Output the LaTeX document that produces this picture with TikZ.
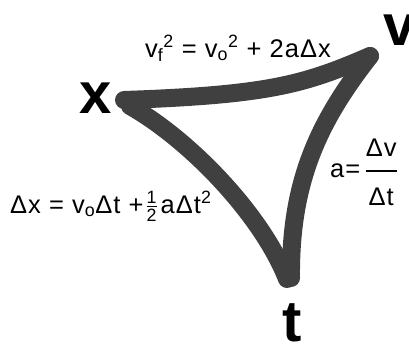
\documentclass[tikz,border=0pt]{standalone}
\usepackage{amsmath}
\usepackage{fontspec}
\setmainfont{Liberation Sans}
\newfontfamily\eqfont[LetterSpace=4]{Liberation Sans}
\definecolor{edgegray}{HTML}{404040}
\begin{document}
\begin{tikzpicture}[x=1pt,y=-1pt]
 \tikzstyle{e} = [line width=18pt, draw=edgegray, line cap=round, line join=round]
    \tikzstyle{big} = [font=\bfseries\fontsize{58}{58}\selectfont, inner sep=0pt, anchor=base]
    \tikzstyle{eq} = [font=\eqfont\fontsize{25.5}{30}\selectfont, inner sep=0pt]
    %%
    \useasboundingbox (0,0) rectangle (409,343);

        \coordinate (cx) at (124,100);
        \coordinate (cxl) at (130,106);
        \coordinate (cv) at (370,56);
        \coordinate (ct) at (291,278);
        \coordinate (ctl) at (287,279);
        \draw[e] (cx) .. controls (270,95) and (305,84) .. (cv);
        \draw[e] (cv) .. controls (320,120) and (290,180) .. (ct);
        \draw[e] (cxl) .. controls (190,140) and (262,215) .. (ctl);

        \node[big] (lx) at (96,113) {x};
        \node[big] (lv) at (400,45) {v};
        \node[big] (lt) at (292,341) {t};

        \node[eq,anchor=base west] (vsq) at (145,57)
          {v\textsubscript{f}\textsuperscript{2} = v\textsubscript{o}\textsuperscript{2} + 2aΔx};
        \node[eq,anchor=base west] (dx) at (10,213)
          {Δx = v\textsubscript{o}Δt +\hspace{2pt}$\genfrac{}{}{1pt}{1}{\text{1}}{\text{2}}$\hspace{3pt}aΔt\textsuperscript{2}};
        \node[eq,anchor=base west] (acc) at (330,177)
          {a=\,$\genfrac{}{}{1.6pt}{0}{\text{Δv}\rule[-9pt]{0pt}{0pt}}{\rule{0pt}{29pt}\text{Δt}}$};

    \end{tikzpicture}
\end{document}
